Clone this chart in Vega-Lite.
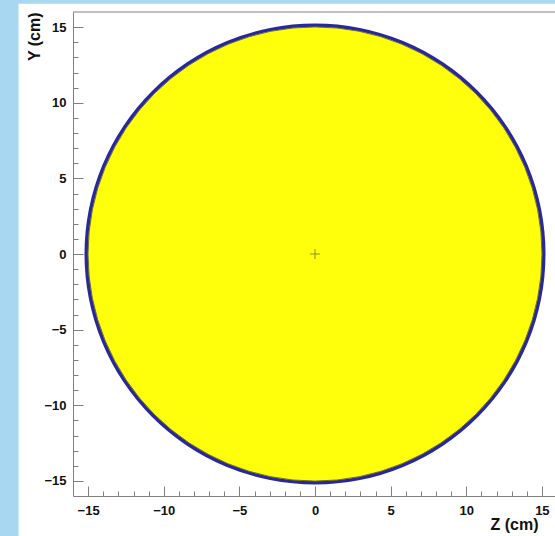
{
  "$schema": "https://vega.github.io/schema/vega-lite/v6.json",
  "width": 484,
  "height": 484,
  "autosize": {"type": "none"},
  "padding": {"left": 73, "top": 12, "right": 0, "bottom": 40},
  "background": "#a8d8f1",
  "config": {
    "view": {"stroke": null},
    "axis": {
      "grid": false,
      "domainColor": "#808080", "tickColor": "#808080", "tickWidth": 1,
      "tickSize": {"expr": "datum.value % 5 === 0 ? -10 : -5"},
      "labelFont": "Liberation Sans", "labelFontWeight": "bold", "labelFontSize": 13, "labelColor": "#111111",
      "labelFlush": false, "labelOverlap": false,
      "titleFont": "Liberation Sans", "titleFontSize": 16, "titleFontWeight": "bold", "titleColor": "#111111",
      "titleAnchor": "end", "titleAlign": "right", "titleBaseline": "alphabetic"
    },
    "axisX": {"labelPadding": 18, "titleX": 465, "titleY": 33},
    "axisY": {"labelPadding": 17, "titleAngle": -90, "titleX": -34}
  },
  "data": {"values": [{"z": 0, "y": 0, "r": 15}]},
  "layer": [
    {
      "mark": {"type": "rect", "color": "white"},
      "encoding": {
        "x": {"datum": -19.6, "type": "quantitative", "scale": {"domain": [-16, 16], "nice": false, "zero": false},
          "axis": {"title": "Z (cm)", "zindex": 1, "values": [-15, -14, -13, -12, -11, -10, -9, -8, -7, -6, -5, -4, -3, -2, -1, 0, 1, 2, 3, 4, 5, 6, 7, 8, 9, 10, 11, 12, 13, 14, 15],
            "labelExpr": "datum.value % 5 === 0 ? datum.label : ''"}},
        "x2": {"datum": 18},
        "y": {"datum": 16.55, "type": "quantitative", "scale": {"domain": [-16, 16], "nice": false, "zero": false},
          "axis": {"title": "Y (cm)", "zindex": 1, "values": [-15, -14, -13, -12, -11, -10, -9, -8, -7, -6, -5, -4, -3, -2, -1, 0, 1, 2, 3, 4, 5, 6, 7, 8, 9, 10, 11, 12, 13, 14, 15],
            "labelExpr": "datum.value % 5 === 0 ? datum.label : ''"}},
        "y2": {"datum": -19}
      }
    },
    {
      "mark": {"type": "rule", "color": "#808080", "strokeWidth": 1},
      "encoding": {
        "x": {"datum": -16, "type": "quantitative",
          "axis": {"title": "Z (cm)", "zindex": 1, "values": [-15, -14, -13, -12, -11, -10, -9, -8, -7, -6, -5, -4, -3, -2, -1, 0, 1, 2, 3, 4, 5, 6, 7, 8, 9, 10, 11, 12, 13, 14, 15],
            "labelExpr": "datum.value % 5 === 0 ? datum.label : ''"}},
        "x2": {"datum": 16},
        "y": {"datum": 16, "type": "quantitative",
          "axis": {"title": "Y (cm)", "zindex": 1, "values": [-15, -14, -13, -12, -11, -10, -9, -8, -7, -6, -5, -4, -3, -2, -1, 0, 1, 2, 3, 4, 5, 6, 7, 8, 9, 10, 11, 12, 13, 14, 15],
            "labelExpr": "datum.value % 5 === 0 ? datum.label : ''"}}
      }
    },
    {
      "mark": {"type": "point", "shape": "circle", "filled": true, "color": "#28289c", "opacity": 1, "size": 212521},
      "encoding": {
        "x": {"field": "z", "type": "quantitative",
          "axis": {"title": "Z (cm)", "zindex": 1, "values": [-15, -14, -13, -12, -11, -10, -9, -8, -7, -6, -5, -4, -3, -2, -1, 0, 1, 2, 3, 4, 5, 6, 7, 8, 9, 10, 11, 12, 13, 14, 15],
            "labelExpr": "datum.value % 5 === 0 ? datum.label : ''"}},
        "y": {"field": "y", "type": "quantitative",
          "axis": {"title": "Y (cm)", "zindex": 1, "values": [-15, -14, -13, -12, -11, -10, -9, -8, -7, -6, -5, -4, -3, -2, -1, 0, 1, 2, 3, 4, 5, 6, 7, 8, 9, 10, 11, 12, 13, 14, 15],
            "labelExpr": "datum.value % 5 === 0 ? datum.label : ''"}}
      }
    },
    {
      "mark": {"type": "point", "shape": "circle", "filled": true, "color": "#ffff0c", "opacity": 1, "size": 206116, "stroke": "#6e6e30", "strokeWidth": 1},
      "encoding": {
        "x": {"field": "z", "type": "quantitative",
          "axis": {"title": "Z (cm)", "zindex": 1, "values": [-15, -14, -13, -12, -11, -10, -9, -8, -7, -6, -5, -4, -3, -2, -1, 0, 1, 2, 3, 4, 5, 6, 7, 8, 9, 10, 11, 12, 13, 14, 15],
            "labelExpr": "datum.value % 5 === 0 ? datum.label : ''"}},
        "y": {"field": "y", "type": "quantitative",
          "axis": {"title": "Y (cm)", "zindex": 1, "values": [-15, -14, -13, -12, -11, -10, -9, -8, -7, -6, -5, -4, -3, -2, -1, 0, 1, 2, 3, 4, 5, 6, 7, 8, 9, 10, 11, 12, 13, 14, 15],
            "labelExpr": "datum.value % 5 === 0 ? datum.label : ''"}}
      }
    },
    {
      "mark": {"type": "point", "shape": "M-1,0L1,0M0,-1L0,1", "filled": false, "color": "#8a8a3c", "opacity": 1, "size": 100, "strokeWidth": 1},
      "encoding": {
        "x": {"field": "z", "type": "quantitative",
          "axis": {"title": "Z (cm)", "zindex": 1, "values": [-15, -14, -13, -12, -11, -10, -9, -8, -7, -6, -5, -4, -3, -2, -1, 0, 1, 2, 3, 4, 5, 6, 7, 8, 9, 10, 11, 12, 13, 14, 15],
            "labelExpr": "datum.value % 5 === 0 ? datum.label : ''"}},
        "y": {"field": "y", "type": "quantitative",
          "axis": {"title": "Y (cm)", "zindex": 1, "values": [-15, -14, -13, -12, -11, -10, -9, -8, -7, -6, -5, -4, -3, -2, -1, 0, 1, 2, 3, 4, 5, 6, 7, 8, 9, 10, 11, 12, 13, 14, 15],
            "labelExpr": "datum.value % 5 === 0 ? datum.label : ''"}}
      }
    }
  ]
}
